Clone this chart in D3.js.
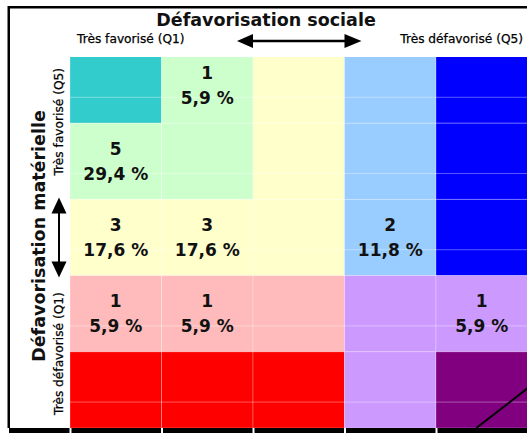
<!DOCTYPE html>
<html><head><meta charset="utf-8">
<script src="https://cdn.jsdelivr.net/npm/d3@7"></script>
<style>body{margin:0;background:#fff;} svg{display:block;}</style>
</head><body><svg id="c" width="527" height="433"></svg>
<script>
// ---- data ----
const socialQuintiles = ["Q1","Q2","Q3","Q4","Q5"];          // columns, left to right
const materialQuintiles = ["Q5","Q4","Q3","Q2","Q1"];        // rows, top to bottom
const cellColors = [
  ["#33CCCC","#CCFFCC","#FFFFCC","#99CCFF","#0000FF"],
  ["#CCFFCC","#CCFFCC","#FFFFCC","#99CCFF","#0000FF"],
  ["#FFFFCC","#FFFFCC","#FFFFCC","#99CCFF","#0000FF"],
  ["#FFBBBB","#FFBBBB","#FFBBBB","#CC99FF","#CC99FF"],
  ["#FF0000","#FF0000","#FF0000","#CC99FF","#800080"]
];
const cellCounts = [
  [null, 1, null, null, null],
  [5, null, null, null, null],
  [3, 3, null, 2, null],
  [1, 1, null, null, 1],
  [null, null, null, null, null]
];
const cellPercents = [
  [null, "5,9 %", null, null, null],
  ["29,4 %", null, null, null, null],
  ["17,6 %", "17,6 %", null, "11,8 %", null],
  ["5,9 %", "5,9 %", null, null, "5,9 %"],
  [null, null, null, null, null]
];
const titleSocial = "Défavorisation sociale";
const titleMaterial = "Défavorisation matérielle";
const socialEndLabels = ["Très favorisé (Q1)", "Très défavorisé (Q5)"];
const materialEndLabels = ["Très favorisé (Q5)", "Très défavorisé (Q1)"];

// ---- layout ----
const svg = d3.select("#c");
const x = d3.scaleBand().domain(socialQuintiles).range([70, 527.5]);
const y = d3.scaleBand().domain(materialQuintiles).range([47, 428]);
const plotTop = 57, plotBottom = 428;
const bw = x.bandwidth(), bh = y.bandwidth();
const font = "'DejaVu Sans', Verdana, sans-serif";

const cells = [];
materialQuintiles.forEach((mq, r) => socialQuintiles.forEach((sq, c) => {
  cells.push({mq, sq, color: cellColors[r][c], count: cellCounts[r][c], pct: cellPercents[r][c]});
}));

svg.append("defs").append("clipPath").attr("id", "plotClip")
  .append("rect").attr("x", 70).attr("y", plotTop).attr("width", 460).attr("height", plotBottom - plotTop);

const plot = svg.append("g").attr("clip-path", "url(#plotClip)");
plot.selectAll("rect.cell").data(cells).join("rect").attr("class", "cell")
  .attr("x", d => x(d.sq)).attr("y", d => y(d.mq))
  .attr("width", bw).attr("height", bh)
  .attr("fill", d => d.color)
  .attr("stroke", "rgba(255,255,255,0.25)").attr("stroke-width", 1);

// light gridlines
plot.selectAll("line.grid").data(materialQuintiles).join("line").attr("class", "grid")
  .attr("x1", 70).attr("x2", 530)
  .attr("y1", d => y(d) + bh * 0.66).attr("y2", d => y(d) + bh * 0.66)
  .attr("stroke", "rgba(255,255,255,0.35)").attr("stroke-width", 1);

// diagonal in the last cell
const lc = {x: x("Q5"), y: y("Q1")};
plot.append("line")
  .attr("x1", lc.x + bw * 0.44).attr("y1", lc.y + bh)
  .attr("x2", lc.x + bw * 1.0).attr("y2", lc.y + bh * 0.48)
  .attr("stroke", "#000").attr("stroke-width", 2);

// cell labels
const lab = plot.selectAll("g.lab").data(cells.filter(d => d.count !== null)).join("g").attr("class", "lab")
  .attr("transform", d => `translate(${x(d.sq) + bw / 2},${y(d.mq) + bh / 2})`)
  .attr("font-family", font).attr("font-weight", "bold")
  .attr("font-size", 17).attr("text-anchor", "middle").attr("fill", "#111");
lab.append("text").attr("y", -12.5).attr("dy", "0.36em").text(d => d.count);
lab.append("text").attr("y", 12.5).attr("dy", "0.36em").text(d => d.pct);

// frame
svg.append("path").attr("d", `M8.75,428 V7.25 H527`).attr("fill", "none")
  .attr("stroke", "#000").attr("stroke-width", 2.5);

// bottom axis bar with white ticks at column boundaries
const ag = svg.append("g").attr("transform", `translate(0,${plotBottom})`);
ag.append("rect").attr("x", 9).attr("y", 0).attr("width", 520).attr("height", 8).attr("fill", "#000");
ag.selectAll("line.tk").data(socialQuintiles).join("line").attr("class", "tk")
  .attr("x1", d => x(d) + 0.5).attr("x2", d => x(d) + 0.5).attr("y1", 0).attr("y2", 8)
  .attr("stroke", "#fff").attr("stroke-width", 2);

// titles
svg.append("text").attr("x", 266).attr("y", 25.5).attr("text-anchor", "middle")
  .attr("font-family", font).attr("font-weight", "bold").attr("font-size", 17.5).attr("fill", "#111")
  .text(titleSocial);
svg.append("text").attr("transform", `translate(45,236) rotate(-90)`).attr("text-anchor", "middle")
  .attr("font-family", font).attr("font-weight", "bold").attr("font-size", 17.5).attr("fill", "#111")
  .text(titleMaterial);

// end labels
const endFs = 12.2;
svg.append("text").attr("x", 77).attr("y", 43).attr("font-family", font).attr("font-size", endFs).attr("fill", "#000")
  .attr("stroke", "#000").attr("stroke-width", 0.25).text(socialEndLabels[0]);
svg.append("text").attr("x", 523).attr("y", 43).attr("text-anchor", "end").attr("font-family", font).attr("font-size", endFs).attr("fill", "#000")
  .attr("stroke", "#000").attr("stroke-width", 0.25).text(socialEndLabels[1]);
svg.append("text").attr("transform", `translate(62.5,68) rotate(-90)`).attr("text-anchor", "end")
  .attr("font-family", font).attr("font-size", endFs).attr("fill", "#000")
  .attr("stroke", "#000").attr("stroke-width", 0.25).text(materialEndLabels[0]);
svg.append("text").attr("transform", `translate(62.5,415) rotate(-90)`).attr("text-anchor", "start")
  .attr("font-family", font).attr("font-size", endFs).attr("fill", "#000")
  .attr("stroke", "#000").attr("stroke-width", 0.25).text(materialEndLabels[1]);

// arrows
function arrowH(x1, x2, yy) {
  const g = svg.append("g");
  g.append("line").attr("x1", x1 + 10).attr("x2", x2 - 10).attr("y1", yy).attr("y2", yy).attr("stroke", "#000").attr("stroke-width", 2.7);
  g.append("path").attr("d", `M${x1},${yy} L${x1 + 16},${yy - 7} L${x1 + 16},${yy + 7} Z`).attr("fill", "#000");
  g.append("path").attr("d", `M${x2},${yy} L${x2 - 17},${yy - 7} L${x2 - 17},${yy + 7} Z`).attr("fill", "#000");
}
function arrowV(xx, y1, y2) {
  const g = svg.append("g");
  g.append("line").attr("x1", xx).attr("x2", xx).attr("y1", y1 + 10).attr("y2", y2 - 10).attr("stroke", "#000").attr("stroke-width", 2);
  g.append("path").attr("d", `M${xx},${y1} L${xx - 7.5},${y1 + 16} L${xx + 7.5},${y1 + 16} Z`).attr("fill", "#000");
  g.append("path").attr("d", `M${xx},${y2} L${xx - 7.5},${y2 - 16} L${xx + 7.5},${y2 - 16} Z`).attr("fill", "#000");
}
arrowH(x("Q3") - 16, x("Q3") + bw + 17, 41);
arrowV(59, y("Q3") - 2, y("Q3") + bh + 2);
</script></body></html>
